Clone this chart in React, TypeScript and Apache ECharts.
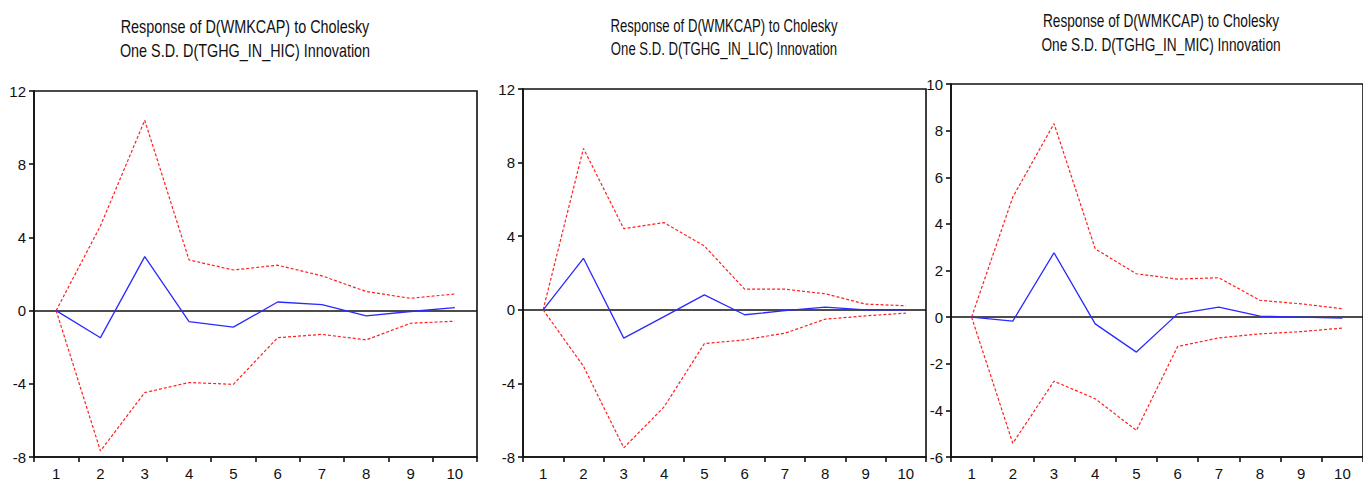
import React, { useEffect, useRef } from "react";
import * as echarts from "echarts";

const periods = ["1", "2", "3", "4", "5", "6", "7", "8", "9", "10"];

const hicResponse = [0, -1.48, 2.95, -0.6, -0.9, 0.47, 0.33, -0.29, -0.05, 0.16];
const hicUpper = [0, 4.63, 10.4, 2.77, 2.22, 2.48, 1.9, 1.04, 0.67, 0.91];
const hicLower = [0, -7.67, -4.48, -3.93, -4.03, -1.48, -1.3, -1.6, -0.69, -0.58];

const licResponse = [0, 2.8, -1.54, -0.37, 0.81, -0.27, -0.05, 0.14, 0.0, 0.0];
const licUpper = [0, 8.77, 4.41, 4.74, 3.47, 1.12, 1.12, 0.87, 0.31, 0.22];
const licLower = [0, -3.07, -7.5, -5.28, -1.84, -1.63, -1.27, -0.51, -0.33, -0.18];

const micResponse = [0, -0.17, 2.76, -0.29, -1.5, 0.14, 0.43, 0.04, 0.0, -0.04];
const micUpper = [0, 5.15, 8.3, 2.93, 1.86, 1.63, 1.69, 0.72, 0.57, 0.36];
const micLower = [0, -5.41, -2.75, -3.5, -4.86, -1.26, -0.89, -0.72, -0.62, -0.47];

const titleLine1 = "Response of D(WMKCAP) to Cholesky";
const titleLines2 = [
  "One S.D. D(TGHG_IN_HIC) Innovation",
  "One S.D. D(TGHG_IN_LIC) Innovation",
  "One S.D. D(TGHG_IN_MIC) Innovation",
];

const yMins = [-8, -8, -6];
const yMaxs = [12, 12, 10];
const yIntervals = [4, 4, 2];

const FONT = "'Liberation Sans', Arial, sans-serif";

export default function App() {
  const ref = useRef<HTMLDivElement>(null);

  useEffect(() => {
    if (!ref.current) return;
    const chart = echarts.init(ref.current, null, { renderer: "svg" });

    const panels = [
      { resp: hicResponse, up: hicUpper, lo: hicLower },
      { resp: licResponse, up: licUpper, lo: licLower },
      { resp: micResponse, up: micUpper, lo: micLower },
    ];

    const grids = [
      { left: 34, top: 91, width: 443, height: 366 },
      { left: 523, top: 89, width: 403, height: 368 },
      { left: 951, top: 84, width: 422, height: 373 },
    ];

    const titlePos = [
      { x: 245, y1: 26, y2: 50, sx: 0.8 },
      { x: 724, y1: 26, y2: 49, sx: 0.73 },
      { x: 1161, y1: 21, y2: 45, sx: 0.76 },
    ];

    const graphics: any[] = [];
    titlePos.forEach((t, i) => {
      [titleLine1, titleLines2[i]].forEach((line, k) => {
        graphics.push({
          type: "text",
          x: t.x,
          y: k === 0 ? t.y1 : t.y2,
          scaleX: t.sx,
          silent: true,
          style: {
            text: line,
            fontFamily: FONT,
            fontSize: 18,
            fill: "#111",
            textAlign: "center",
            textVerticalAlign: "middle",
          },
        });
      });
    });

    const series: any[] = [];
    panels.forEach((p, i) => {
      series.push({
        type: "line",
        xAxisIndex: i,
        yAxisIndex: i,
        data: p.up,
        symbol: "none",
        lineStyle: { color: "#ff2020", width: 1.2, type: [3, 2] },
        z: 3,
      });
      series.push({
        type: "line",
        xAxisIndex: i,
        yAxisIndex: i,
        data: p.lo,
        symbol: "none",
        lineStyle: { color: "#ff2020", width: 1.2, type: [3, 2] },
        z: 3,
      });
      series.push({
        type: "line",
        xAxisIndex: i,
        yAxisIndex: i,
        data: p.resp,
        symbol: "none",
        lineStyle: { color: "#2a2aff", width: 1.3 },
        z: 4,
        markLine: {
          silent: true,
          symbol: "none",
          label: { show: false },
          lineStyle: { color: "#111", width: 1.6, type: "solid" },
          data: [{ yAxis: 0 }],
          z: 2,
        },
      });
    });

    chart.setOption({
      animation: false,
      backgroundColor: "#fff",
      graphic: graphics,
      grid: grids.map((g) => ({
        ...g,
        show: true,
        borderColor: "#111",
        borderWidth: 1.6,
        backgroundColor: "transparent",
      })),
      xAxis: grids.map((_, i) => ({
        type: "category",
        gridIndex: i,
        data: periods,
        boundaryGap: true,
        axisLine: { show: true, onZero: false, lineStyle: { color: "#111", width: 1.6 } },
        axisTick: { show: true, length: 5, alignWithLabel: false, lineStyle: { color: "#111", width: 1.6 } },
        axisLabel: { color: "#111", fontFamily: FONT, fontSize: 15, margin: 9 },
        splitLine: { show: false },
      })),
      yAxis: grids.map((_, i) => ({
        type: "value",
        gridIndex: i,
        min: yMins[i],
        max: yMaxs[i],
        interval: yIntervals[i],
        axisLine: { show: true, lineStyle: { color: "#111", width: 1.6 } },
        axisTick: { show: true, length: 5, lineStyle: { color: "#111", width: 1.6 } },
        axisLabel: { color: "#111", fontFamily: FONT, fontSize: 15, margin: 8 },
        splitLine: { show: false },
      })),
      series,
    });

    return () => chart.dispose();
  }, []);

  return (
    <div
      ref={ref}
      style={{ position: "absolute", left: 0, top: 0, width: 1363, height: 484 }}
    />
  );
}
